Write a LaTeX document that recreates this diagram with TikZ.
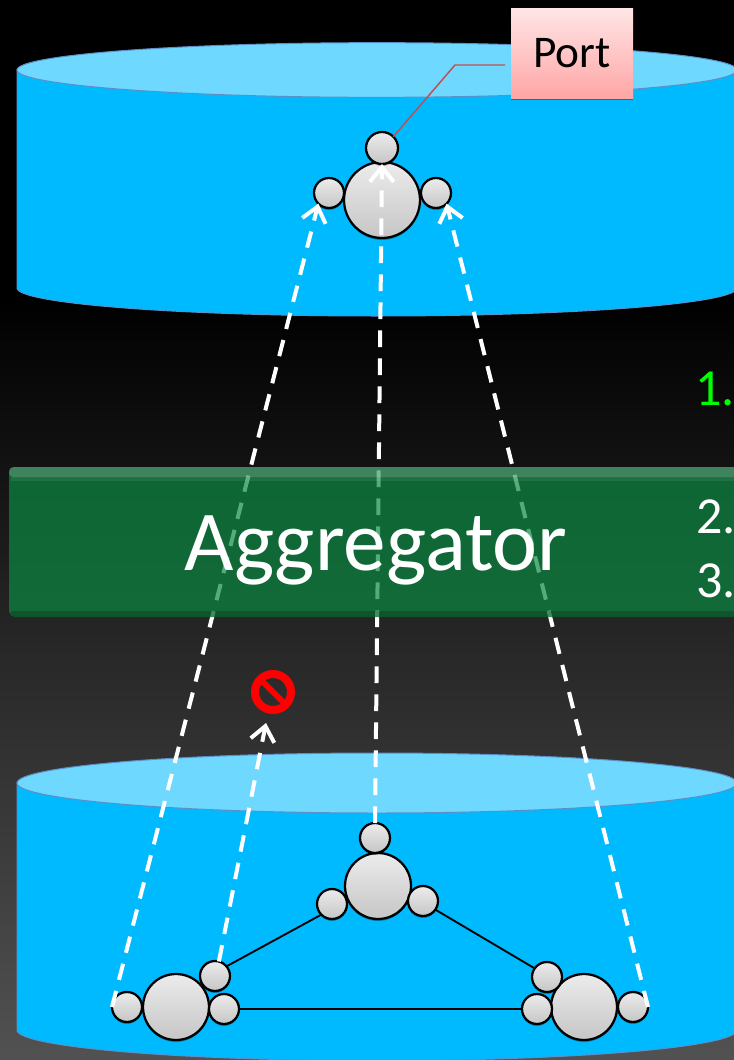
\documentclass[tikz,border=0pt]{standalone}
\usepackage{fontspec}
\setmainfont{Carlito}
\usetikzlibrary{arrows.meta,shadows}
\definecolor{cylbody}{HTML}{00BAFF}
\definecolor{cyltop}{HTML}{6ED8FF}
\definecolor{cylline}{HTML}{5C8FC8}
\definecolor{aggfill}{HTML}{0D8943}
\tikzset{
  cylshape/.style={fill=cylbody,draw=cylline,line width=0.75pt},
  cylcap/.style={fill=cyltop,draw=cylline,line width=0.75pt},
  ball/.style={circle,draw=black,line width=1.7pt,inner sep=0pt,outer sep=0pt,top color=gray!15,bottom color=gray!45,
    drop shadow={shadow xshift=0pt,shadow yshift=-1.5pt,opacity=.3,fill=black}},
  hub/.style={ball,minimum size=49.5pt},
  hubbig/.style={ball,minimum size=57pt},
  portball/.style={ball,minimum size=22.5pt},
  link/.style={draw=black,line width=1.4pt},
  flow/.style={draw=white,line width=3pt,dash pattern=on 12.5pt off 8.5pt,
    -{Straight Barb[length=11pt,width=18pt,line width=3pt]}},
  steptext/.style={anchor=base west,inner sep=0pt,font=\fontsize{39}{39}\selectfont},
}
\begin{document}
\begin{tikzpicture}[x=0.75pt,y=-0.75pt]
\useasboundingbox (0,0) rectangle (734,1060);
\clip (0,0) rectangle (734,1060);
% background
\fill[black] (0,0) rectangle (734,300);
\shade[top color=black,bottom color=black!85] (0,300) rectangle (734,641);
\shade[top color=black!85,bottom color=black!68] (0,640) rectangle (734,1060);
% top cylinder
\path[cylshape] (17,70) -- (17,288) arc[start angle=180,end angle=360,x radius=270pt,y radius=21pt] -- (737,70) -- cycle;
\path[cylcap] (377,70) ellipse[x radius=270pt,y radius=20.5pt];
% bottom cylinder
\path[cylshape] (17,783) -- (17,1030) arc[start angle=180,end angle=360,x radius=270pt,y radius=23pt] -- (737,783) -- cycle;
\path[cylcap] (377,783) ellipse[x radius=270pt,y radius=22.5pt];
% top element
\node[hubbig] (topHub) at (382,200) {};
\node[ball,minimum size=24pt] (topN) at (382,148) {};
\node[portball] (topL) at (329,193) {};
\node[portball] (topR) at (436,193) {};
% bottom centre element
\node[hub] (midHub) at (378,886) {};
\node[portball] (midN) at (375,838) {};
\node[portball] (midL) at (332,904) {};
\node[portball] (midR) at (423,901) {};
% bottom left element
\node[hub] (leftHub) at (176,1007) {};
\node[portball] (leftW) at (127,1007) {};
\node[portball] (leftN) at (215,976) {};
\node[portball] (leftE) at (224,1009) {};
% bottom right element
\node[hub] (rightHub) at (584,1007) {};
\node[portball] (rightW) at (537,1009) {};
\node[portball] (rightN) at (547,977) {};
\node[portball] (rightE) at (633,1007) {};
% links
\draw[link] (leftN.40) -- (midL.225);
\draw[link] (midR.-35) -- (rightN.145);
\draw[link] (leftE) -- (rightW);
% flows
\coordinate (stopEnd) at (266,723);
\draw[flow] (leftW.180) -- (topL.225);
\draw[flow] (midN.north) -- (topN.south);
\draw[flow] (rightE.0) -- (topR.315);
\draw[flow] (leftN.75) -- (stopEnd);
% prohibited sign
\node[circle,draw=red,line width=6pt,minimum size=27pt,inner sep=0pt,outer sep=0pt] (stopSign) at (273,692) {};
\draw[red,line width=4.5pt] (stopSign.135) -- (stopSign.315);
% aggregator
\fill[aggfill,fill opacity=.7,rounded corners=4pt] (9,467) rectangle (760,617);
\fill[white,opacity=.2,rounded corners=3pt] (9,467) rectangle (760,477);
\fill[white,opacity=.07] (11,477) rectangle (760,481);
\fill[black,opacity=.2,rounded corners=3pt] (9,611) rectangle (760,617);
\node[text=white,font=\fontsize{64}{64}\selectfont,inner sep=0pt] (aggLabel) at (376,550) {Aggregator};
\node[steptext,text=green] (stepA) at (695,405) {1.};
\node[steptext,text=white] (stepB) at (696,533) {2.};
\node[steptext,text=white] (stepC) at (696,597) {3.};
% port callout
\node[minimum width=91.5pt,minimum height=67.5pt,inner sep=0pt,outer sep=0pt,top color=red!10,bottom color=red!35,
  drop shadow={shadow xshift=0pt,shadow yshift=-1.5pt,opacity=.35,fill=black},
  font=\fontsize{34}{34}\selectfont,text=black] (portLabel) at (572,53) {\raisebox{-1pt}{Port}};
\coordinate (portBend) at (455,65);
\coordinate (portStart) at (505,65);
\draw[draw={rgb,255:red,192;green,80;blue,77},line width=1.1pt] (portStart) -- (portBend) -- (topN.45);
\end{tikzpicture}
\end{document}
